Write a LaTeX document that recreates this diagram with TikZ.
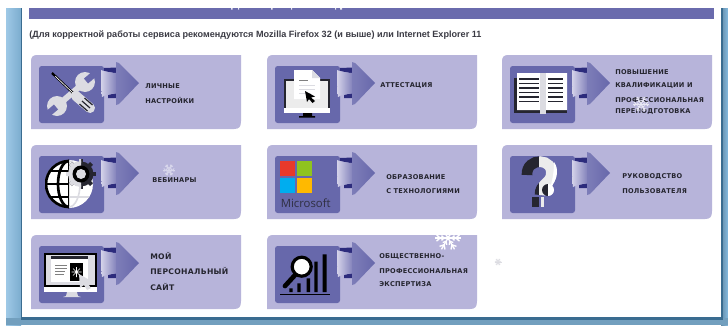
\documentclass[tikz,border=0pt]{standalone}
\usepackage{fontspec}
\setmainfont{Liberation Sans}
\newfontfamily\cardfont[LetterSpace=4]{DejaVu Sans}
\newfontfamily\msfont{Open Sans}
\definecolor{sidebl}{HTML}{86BBE0}
\definecolor{sidedk}{HTML}{3A6C90}
\definecolor{barcol}{HTML}{6A6BAD}
\definecolor{cardcol}{HTML}{B7B4DA}
\definecolor{innercol}{HTML}{6768AB}
\definecolor{foldcol}{HTML}{2C2B7C}
\definecolor{inkcol}{HTML}{25252F}
\definecolor{lightg}{HTML}{DCDCE2}
\definecolor{midg}{HTML}{ECECEC}
\definecolor{msred}{HTML}{E8392B}
\definecolor{msgreen}{HTML}{8FC31F}
\definecolor{msblue}{HTML}{00ADEF}
\definecolor{msyellow}{HTML}{FFB900}
\tikzset{
  lbl/.style={anchor=west,inner sep=0pt,text=inkcol,font=\cardfont\bfseries\fontsize{4.95pt}{6pt}\selectfont},
  lblbig/.style={lbl,font=\cardfont\bfseries\fontsize{5.75pt}{6pt}\selectfont},
  cardbg/.style={fill=cardcol},
  innerbg/.style={fill=innercol,rounded corners=2pt}
}
\newcommand{\cardbase}[2]{%
  \begin{scope}[shift={(#1,#2)}]
    \fill[cardbg] (0,74) -- (0,6) .. controls (0,2) and (2,0) .. (6,0) -- (210,0) -- (210,66) .. controls (210,72) and (208,74) .. (203,74) -- cycle;
    \fill[innerbg] (8,11) rectangle (73,68);
  \end{scope}}
\newcommand{\cardarrow}[2]{%
  \begin{scope}[shift={(#1,#2)}]
    \fill[foldcol] (73,13) -- (86,12.5) -- (86,18.5) -- (73,16) -- cycle;
    \fill[foldcol] (77,43) -- (86,43) -- (86,38) -- (77,40) -- cycle;
    \shade[left color=white!40!cardcol,right color=innercol!70!cardcol]
      (70,15) .. controls (75,17) and (80,18) .. (86,18) -- (86,38.5) .. controls (80,38.5) and (75,39.5) .. (71,42) .. controls (70,32) and (70,25) .. (70,15) -- cycle;
    \shade[left color=innercol!72!cardcol,right color=innercol]
      (85,7) -- (88,8) -- (108,28) -- (88,49) -- (85,50) -- cycle;
  \end{scope}}
\newcommand{\snowflake}[5]{%
  \begin{scope}[shift={(#1,#2)},draw=#4,line width=#5]
    \foreach \a in {0,60,...,300}{
      \draw[rotate=\a] (0,0) -- (#3,0);
      \draw[rotate=\a] (0.6*#3,0) -- +(0.28*#3,0.24*#3);
      \draw[rotate=\a] (0.6*#3,0) -- +(0.28*#3,-0.24*#3);
      \draw[rotate=\a] (0.3*#3,0) -- +(0.2*#3,0.18*#3);
      \draw[rotate=\a] (0.3*#3,0) -- +(0.2*#3,-0.18*#3);
    }
  \end{scope}}
\begin{document}
\begin{tikzpicture}[x=0.75pt,y=-0.75pt]
\useasboundingbox (0,0) rectangle (728,325);
% page frame
\fill[white] (0,0) rectangle (728,325);
\shade[left color=sidebl!80!white,right color=sidebl!92!black] (6,8) rectangle (21,325);
\shade[left color=sidebl!75!black,right color=sidebl] (721,8) rectangle (728,325);
\fill[sidebl!85!black] (6,318) rectangle (728,325);
\fill[sidedk] (20.5,8) rectangle (22,319);
\fill[sidedk] (721,8) rectangle (723,319);
\fill[sidedk] (20.5,317) rectangle (723,319.5);
\fill[white] (22,8) rectangle (721,317);
% header bar
\fill[barcol] (29,8) rectangle (714,19);
\fill[white!85!barcol] (231,8) rectangle (232.5,9.5) (238,8) rectangle (239,9.5) (271,8) rectangle (272.5,9.5) (291,8) rectangle (292,9.5) (335,8) rectangle (336,9.5) (340,8) rectangle (342,9.5);
\node[anchor=west,inner sep=0pt,text=inkcol!90!white,font=\bfseries\fontsize{6.82pt}{8pt}\selectfont] (note) at (29,35) {(Для корректной работы сервиса рекомендуются Mozilla Firefox 32 (и выше) или Internet Explorer 11};
% cards
\cardbase{31}{55}\cardbase{267}{55}\cardbase{502}{55}
\cardbase{31}{145}\cardbase{267}{145}\cardbase{502}{145}
\cardbase{31}{235}\cardbase{267}{235}
% icon 1: tools
\begin{scope}[shift={(31,55)}]
  \draw[lightg,line width=4.5pt] (26,51) -- (54,27);
  \fill[lightg] (54,27) circle (10) (26,51) circle (10);
  \draw[innercol,line width=4.8pt] (55,26) -- (68,15);
  \draw[innercol,line width=4.8pt] (25,52) -- (12,63);
  \draw[black,line width=1.7pt] (21,18) -- (42,38);
  \draw[white,line width=.5pt] (24,21) -- (42,38);
  \draw[lightg,line width=7.5pt,line cap=round] (45,41) -- (59,53);
  \draw[inkcol,line width=.9pt] (48.5,49) -- (56.5,56);
  \draw[inkcol,line width=.9pt] (51,46) -- (59,53);
  \draw[inkcol,line width=.9pt] (53.5,43) -- (61.5,50);
\end{scope}
% icon 2: monitor and sheet
\begin{scope}[shift={(267,55)}]
  \fill[inkcol] (17,24) rectangle (63,53);
  \fill[midg] (19,26) rectangle (61,53);
  \fill[white] (17,53) rectangle (63,58);
  \fill[black] (36,58) rectangle (45,61) (32,61) rectangle (48,62.5);
  \fill[white] (27,15) -- (45,15) -- (53,23) -- (53,44) -- (27,44) -- cycle;
  \fill[lightg] (45,15) -- (53,23) -- (45,23) -- cycle;
  \draw[gray,line width=.7pt] (32,25) -- (41,25);
  \draw[lightg,line width=.7pt] (32,30) -- (48,30) (32,34) -- (48,34) (32,38) -- (44,38);
  \fill[black] (38,36) -- (48,41.5) -- (44,42.5) -- (48,46) -- (45.5,48) -- (42,44) -- (40,47) -- cycle;
\end{scope}
% icon 3: book
\begin{scope}[shift={(502,55)}]
  \fill[inkcol] (12,23) rectangle (65,58);
  \fill[white] (15,18) rectangle (38,55) (44,18) rectangle (65,55);
  \fill[lightg] (38,18) rectangle (44,59);
  \foreach \yy in {24,28.5,33,37.5,42,46.5}{
    \draw[inkcol,line width=.8pt] (17,\yy) -- (37,\yy);
    \draw[inkcol,line width=.8pt] (46,\yy) -- (61,\yy);
  }
\end{scope}
% icon 4: globe and gear
\begin{scope}[shift={(31,145)}]
  \fill[white] (38,39) circle (24);
  \begin{scope}
    \clip (14,10) rectangle (38,68);
    \draw[black,line width=2pt] (38,39) circle (23);
    \draw[black,line width=2pt] (38,39) ellipse (11 and 23);
    \draw[black,line width=2pt] (14,39) -- (38,39);
    \draw[black,line width=2pt] (19,26) -- (38,26) (19,52) -- (38,52);
    \draw[black,line width=2pt] (38,15) -- (38,63);
  \end{scope}
  \begin{scope}
    \clip (38,10) rectangle (64,68);
    \draw[lightg,line width=1.2pt] (38,39) ellipse (11 and 23) (38,39) -- (62,39) (38,52) -- (58,52);
  \end{scope}
  \foreach \a in {0,45,...,315}{\fill[inkcol,rotate around={\a:(50,29)}] (48,14) rectangle (52,18);}
  \fill[inkcol] (50,29) circle (12.5);
  \begin{scope}
    \clip (30,10) rectangle (50,50);
    \foreach \a in {0,45,...,315}{\fill[lightg,rotate around={\a:(50,29)}] (48,14) rectangle (52,18);}
    \fill[lightg] (50,29) circle (13);
  \end{scope}
  \fill[black] (50,29) circle (8.5);
  \fill[lightg] (50,29) circle (5);
\end{scope}
% icon 5: Microsoft
\begin{scope}[shift={(267,145)}]
  \fill[msred] (13,16) rectangle (28.3,31);
  \fill[msgreen] (29.7,16) rectangle (45,31);
  \fill[msblue] (13,32.7) rectangle (28.3,47.7);
  \fill[msyellow] (29.7,32.7) rectangle (45,47.7);
  \node[anchor=west,inner sep=0pt,text=inkcol!85!innercol,font=\msfont\fontsize{8.5pt}{10pt}\selectfont] (ms) at (13.5,58) {Microsoft};
\end{scope}
% icon 6: question mark
\begin{scope}[shift={(502,145)}]
  \begin{scope}
    \clip (15,10) rectangle (37,60);
    \draw[inkcol,line width=8pt] (25,30) .. controls (24,12) and (53,12) .. (49,31) .. controls (47,39) and (38,39) .. (38,50);
  \end{scope}
  \begin{scope}
    \clip (37,10) rectangle (60,60);
    \draw[midg,line width=8pt] (25,30) .. controls (24,12) and (53,12) .. (49,31) .. controls (47,39) and (38,39) .. (38,50);
  \end{scope}
  \fill[white] (52,17) .. controls (57,24) and (56,33) .. (47,46) .. controls (51,35) and (52,25) .. (52,17) -- cycle;
  \fill[inkcol] (29.7,52) rectangle (37,62);
  \fill[midg] (38.5,52) rectangle (41.5,62);
  \fill[inkcol] (46,51) arc (90:270:6);
  \fill[white] (46,51) arc (90:-90:6);
\end{scope}
% icon 7: personal site monitor
\begin{scope}[shift={(31,235)}]
  \fill[black] (13,18) rectangle (66,52);
  \fill[lightg] (15,20) rectangle (64,50);
  \fill[white] (20,21) rectangle (57,47);
  \fill[inkcol] (20,21) rectangle (57,23.5);
  \fill[black] (39,28) rectangle (52,46);
  \draw[gray,line width=.5pt] (24,30) -- (36,30) (24,33) -- (36,33) (24,36) -- (34,36) (24,39) -- (33,39);
  \draw[white,line width=.4pt] (45.5,37) -- +(5,0) (45.5,37) -- +(-5,0) (45.5,37) -- +(0,5) (45.5,37) -- +(0,-5) (45.5,37) -- +(3.5,3.5) (45.5,37) -- +(-3.5,-3.5) (45.5,37) -- +(3.5,-3.5) (45.5,37) -- +(-3.5,3.5);
  \fill[white] (13,52) rectangle (66,57);
  \fill[lightg] (48,39) -- (62,47) -- (57,48.5) -- (60,53) -- (56,55) -- (53,50) -- (49,53) -- cycle;
  \fill[lightg] (36,57) -- (46,57) -- (47,61) -- (50,62) -- (32,62) -- (35,61) -- cycle;
\end{scope}
% icon 8: magnifier and bars
\begin{scope}[shift={(267,235)}]
  \fill[black] (22.3,53.3) rectangle (25.7,57) (30.3,48.3) rectangle (33.7,57) (39.7,43.3) rectangle (43,57) (47.3,26.7) rectangle (50.7,57) (55.7,19.3) rectangle (59.7,57);
  \fill[black] (13,58.5) rectangle (63,60);
  \draw[black,line width=3.5pt,line cap=round] (18,51) -- (29,39);
  \draw[black,line width=2.4pt,fill=white] (34.7,31.7) circle (9.5);
\end{scope}
% arrows
\cardarrow{31}{55}\cardarrow{267}{55}\cardarrow{502}{55}
\cardarrow{31}{145}\cardarrow{267}{145}\cardarrow{502}{145}
\cardarrow{31}{235}\cardarrow{267}{235}
% labels
\node[lbl] (a1) at (145,86) {ЛИЧНЫЕ};
\node[lbl] (a2) at (145,100) {НАСТРОЙКИ};
\node[lbl] (b1) at (380,86) {АТТЕСТАЦИЯ};
\node[lbl] (c1) at (615,72) {ПОВЫШЕНИЕ};
\node[lbl] (c2) at (615,86) {КВАЛИФИКАЦИИ И};
\node[lbl] (c3) at (615,100) {ПРОФЕССИОНАЛЬНАЯ};
\node[lbl] (c4) at (615,112) {ПЕРЕПОДГОТОВКА};
\node[lbl] (d1) at (152,180) {ВЕБИНАРЫ};
\node[lbl] (e1) at (386,177) {ОБРАЗОВАНИЕ};
\node[lbl] (e2) at (386,191) {С ТЕХНОЛОГИЯМИ};
\node[lbl] (f1) at (622,177) {РУКОВОДСТВО};
\node[lbl] (f2) at (622,191.5) {ПОЛЬЗОВАТЕЛЯ};
\node[lblbig] (g1) at (150,256) {МОЙ};
\node[lblbig] (g2) at (150,271) {ПЕРСОНАЛЬНЫЙ};
\node[lblbig] (g3) at (150,287) {САЙТ};
\node[lbl] (h1) at (379,257) {ОБЩЕСТВЕННО-};
\node[lbl] (h2) at (379,271) {ПРОФЕССИОНАЛЬНАЯ};
\node[lbl] (h3) at (379,284) {ЭКСПЕРТИЗА};
% snowflakes
\snowflake{169}{170}{6}{white!45!cardcol}{.7pt}
\snowflake{448}{238}{13}{white}{1pt}
\snowflake{498}{262}{3.5}{lightg}{.4pt}
\snowflake{641}{104}{8}{white!70!cardcol}{.7pt}
\end{tikzpicture}
\end{document}
